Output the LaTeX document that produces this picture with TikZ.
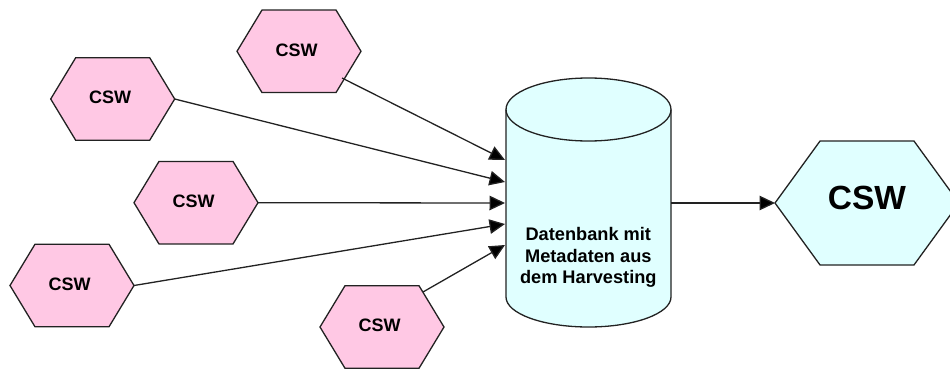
\documentclass[tikz,border=0pt]{standalone}
\usepackage{fontspec}
\setmainfont{Liberation Sans}
\usetikzlibrary{shapes.symbols,arrows.meta}
\definecolor{hexpink}{HTML}{FFC8E4}
\definecolor{dbcyan}{HTML}{E0FFFF}
\definecolor{edge}{HTML}{222222}
\newcommand{\smalltext}{\hspace*{-5pt}\raisebox{3pt}{CSW}}
\newcommand{\bigtext}{\raisebox{9.5pt}{CSW}}
\tikzset{
  x=1pt,y=-1pt,
  hexbase/.style={shape=signal,signal to=east and west,signal from=east and west,draw=edge,line width=1.3pt,inner sep=0pt,outer sep=0pt,align=center},
  smallhex/.style={hexbase,fill=hexpink,minimum width=124pt,minimum height=82.5pt,signal pointer angle=117.6,font=\fontsize{18}{21}\bfseries\selectfont},
  bighex/.style={hexbase,fill=dbcyan,minimum width=184pt,minimum height=124pt,signal pointer angle=108,font=\fontsize{33.5}{38}\bfseries\selectfont},
  dbbody/.style={draw=edge,fill=dbcyan,line width=1.3pt,line join=round},
  dbtop/.style={draw=edge,line width=1.3pt},
  dblabel/.style={align=center,font=\fontsize{18.2}{21.3}\bfseries\selectfont,text=black,inner sep=0pt},
  link/.style={draw=edge,line width=1.3pt,-{Triangle[length=15.5pt,width=14.5pt,fill=black]}}
}
\begin{document}
\begin{tikzpicture}
\useasboundingbox (0,0) rectangle (950,369);
\clip (0,0) rectangle (950,369);
\node[smallhex] (h1) at (299,51.3) {\smalltext};
\node[smallhex] (h2) at (112.7,99) {\smalltext};
\node[smallhex] (h3) at (196,202.7) {\smalltext};
\node[smallhex] (h4) at (72,285.5) {\smalltext};
\node[smallhex] (h5) at (382,327) {\smalltext};
\node[bighex] (big) at (867,203) {\bigtext};
\draw[dbbody] (506,109.5) -- (506,297) arc[start angle=180,end angle=0,x radius=82.5,y radius=30] -- (671,109.5) arc[start angle=0,end angle=-180,x radius=82.5,y radius=31.5] -- cycle;
\draw[dbtop] (506,109.5) arc[start angle=180,end angle=0,x radius=82.5,y radius=31.5];
\node[dblabel] (dbtext) at (588.3,257.5) {Datenbank mit\\Metadaten aus\\dem Harvesting};
\coordinate (h1out) at (342,78);
\coordinate (h5out) at (423,292);
\coordinate (in1) at (505,160);
\coordinate (in2) at (505,182);
\coordinate (in3) at (505,203);
\coordinate (in4) at (505,224);
\coordinate (in5) at (505,245);
\coordinate (dbout) at (671,203);
\draw[link] (h1out) -- (in1);
\draw[link] (h2.east) -- (in2);
\draw[link] (h3.east) -- (in3);
\draw[link] (h4.east) -- (in4);
\draw[link] (h5out) -- (in5);
\draw[link] (dbout) -- (big.west);
\end{tikzpicture}
\end{document}
